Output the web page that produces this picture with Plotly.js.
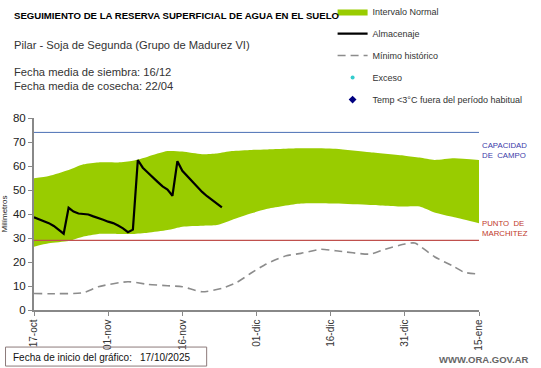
<!DOCTYPE html>
<html>
<head>
<meta charset="utf-8">
<script src="https://cdn.plot.ly/plotly-3.0.1.min.js"></script>
<style>html,body{margin:0;padding:0;background:#fff;}#chart{width:541px;height:368px;}</style>
</head>
<body>
<div id="chart"></div>
<script>
// ---- data ----
const bandDates = ["2025-10-17","2025-10-20","2025-10-24","2025-10-27","2025-10-30","2025-11-03","2025-11-06","2025-11-09","2025-11-13","2025-11-16","2025-11-20","2025-11-23","2025-11-26","2025-11-30","2025-12-03","2025-12-10","2025-12-17","2025-12-24","2025-12-31","2026-01-03","2026-01-06","2026-01-10","2026-01-15"];
const bandUpper = [54.9,55.8,58.3,60.7,61.5,61.5,62.2,63.9,66.2,66.0,64.9,65.2,66.2,66.7,66.9,67.4,67.2,65.7,64.3,63.5,62.5,63.2,62.5];
const bandLower = [26.4,27.8,28.7,30.6,31.7,31.7,31.7,32.2,33.3,34.7,35.1,35.4,37.5,40.3,42.1,44.4,44.4,43.8,43.1,43.1,40.6,38.6,36.1];

const storageDates = ["2025-10-17","2025-10-18","2025-10-19","2025-10-20","2025-10-21","2025-10-22","2025-10-23","2025-10-24","2025-10-25","2025-10-26","2025-10-27","2025-10-28","2025-10-29","2025-10-30","2025-10-31","2025-11-01","2025-11-02","2025-11-03","2025-11-04","2025-11-05","2025-11-06","2025-11-07","2025-11-08","2025-11-09","2025-11-10","2025-11-11","2025-11-12","2025-11-13","2025-11-14","2025-11-15","2025-11-16","2025-11-17","2025-11-18","2025-11-19","2025-11-20","2025-11-21","2025-11-22","2025-11-23","2025-11-24"];
const storage = [38.6,37.8,37.0,36.2,35.0,33.4,31.8,42.6,41.0,40.2,40.1,39.8,39.0,38.4,37.6,36.8,36.2,35.2,34.0,32.4,33.5,62.5,59.3,57.3,55.2,53.4,51.5,50.2,47.6,62.0,58.0,55.8,53.5,51.2,49.2,47.4,45.9,44.3,42.8];

const minDates = ["2025-10-17","2025-10-20","2025-10-27","2025-10-30","2025-11-05","2025-11-09","2025-11-13","2025-11-16","2025-11-20","2025-11-24","2025-11-27","2025-11-30","2025-12-03","2025-12-07","2025-12-10","2025-12-14","2025-12-17","2025-12-24","2025-12-27","2025-12-31","2026-01-02","2026-01-06","2026-01-10","2026-01-12","2026-01-15"];
const minHist = [6.9,6.8,7.2,9.7,11.8,10.7,10.1,9.7,7.6,9.0,11.5,15.5,19.2,22.6,23.6,25.3,24.7,23.3,25.3,27.5,27.9,22.2,18.0,15.7,15.0];

const excesoDates = [];
const exceso = [];
const tempDates = [];
const temp = [];

const capacidadCampo = 74;
const puntoMarchitez = 29;

const tickDates = ["2025-10-17","2025-11-01","2025-11-16","2025-12-01","2025-12-16","2025-12-31","2026-01-15"];
const tickLabels = ["17-oct","01-nov","16-nov","01-dic","16-dic","31-dic","15-ene"];
const yTicks = [0,10,20,30,40,50,60,70,80];

const FONT = "Arial, 'Liberation Sans', sans-serif";

const traces = [
  {x: bandDates, y: bandLower, type: "scatter", mode: "lines", line: {width: 0, color: "#99cc00", shape: "spline", smoothing: 0.6}, showlegend: false, hoverinfo: "skip"},
  {x: bandDates, y: bandUpper, type: "scatter", mode: "lines", fill: "tonexty", fillcolor: "#99cc00", line: {width: 0, color: "#99cc00", shape: "spline", smoothing: 0.6}, name: "Intervalo Normal", legendgroup: "a"},
  {x: storageDates, y: storage, type: "scatter", mode: "lines", line: {color: "#000000", width: 2.2}, name: "Almacenaje", legendgroup: "b"},
  {x: minDates, y: minHist, type: "scatter", mode: "lines", line: {color: "#8c8c8c", width: 1.6, dash: "8px,5px", shape: "spline", smoothing: 0.6}, name: "Mínimo histórico", legendgroup: "c"},
  {x: excesoDates.length ? excesoDates : [null], y: exceso.length ? exceso : [null], type: "scatter", mode: "markers", marker: {color: "#33cccc", size: 4, symbol: "circle"}, name: "Exceso", legendgroup: "d"},
  {x: tempDates.length ? tempDates : [null], y: temp.length ? temp : [null], type: "scatter", mode: "markers", marker: {color: "#000080", size: 6, symbol: "diamond"}, name: "Temp <3°C fuera del período habitual", legendgroup: "e"}
];

const layout = {
  width: 541, height: 368,
  margin: {l: 34, r: 62, t: 118, b: 58, pad: 0, autoexpand: false},
  paper_bgcolor: "#ffffff", plot_bgcolor: "#ffffff",
  font: {family: FONT, color: "#222"},
  showlegend: true,
  legend: {x: 0.671, y: 1.63, xanchor: "left", yanchor: "top", font: {size: 9, color: "#333", family: FONT}, tracegroupgap: 3, itemwidth: 30, bgcolor: "rgba(0,0,0,0)"},
  xaxis: {
    type: "date", range: ["2025-10-17", "2026-01-15"],
    tickvals: tickDates, ticktext: tickLabels, tickangle: -90,
    ticks: "outside", ticklen: 4, tickcolor: "#888", tickwidth: 1,
    showline: true, linecolor: "#888", linewidth: 1.5,
    showgrid: false, zeroline: false,
    tickfont: {size: 10, color: "#333", family: FONT}
  },
  yaxis: {
    range: [0, 80], tickvals: yTicks,
    ticks: "outside", ticklen: 4, tickcolor: "#888", tickwidth: 1,
    showline: true, linecolor: "#888", linewidth: 2,
    showgrid: false, zeroline: false,
    tickfont: {size: 11.5, color: "#222", family: FONT},
    title: {text: "Milímetros", font: {size: 8, color: "#222", family: FONT}, standoff: 6}
  },
  shapes: [
    {type: "line", xref: "paper", yref: "y", x0: 0, x1: 1, y0: capacidadCampo, y1: capacidadCampo, line: {color: "#4a6fb5", width: 1}},
    {type: "line", xref: "paper", yref: "y", x0: 0, x1: 1, y0: puntoMarchitez, y1: puntoMarchitez, line: {color: "#c0504d", width: 1.2}},
    {type: "rect", xref: "paper", yref: "paper", x0: -0.064, x1: 0.388, y0: -0.193, y1: -0.292, line: {color: "#8c7a7a", width: 1}, fillcolor: "rgba(0,0,0,0)"}
  ],
  annotations: [
    {xref: "paper", yref: "paper", x: -0.05, y: 1.535, xanchor: "left", yanchor: "middle", showarrow: false, text: "<b>SEGUIMIENTO DE LA RESERVA SUPERFICIAL DE AGUA EN EL SUELO</b>", font: {size: 9.6, color: "#000", family: FONT}},
    {xref: "paper", yref: "paper", x: -0.05, y: 1.378, xanchor: "left", yanchor: "middle", showarrow: false, text: "Pilar - Soja de Segunda (Grupo de Madurez VI)", font: {size: 11.2, color: "#333", family: FONT}},
    {xref: "paper", yref: "paper", x: -0.05, y: 1.24, xanchor: "left", yanchor: "middle", showarrow: false, text: "Fecha media de siembra: 16/12", font: {size: 11.2, color: "#333", family: FONT}},
    {xref: "paper", yref: "paper", x: -0.05, y: 1.167, xanchor: "left", yanchor: "middle", showarrow: false, text: "Fecha media de cosecha: 22/04", font: {size: 11.2, color: "#333", family: FONT}},
    {xref: "paper", yref: "paper", x: 1.003, y: 0.833, xanchor: "left", yanchor: "middle", showarrow: false, align: "left", text: "CAPACIDAD<br>DE  CAMPO", font: {size: 7.8, color: "#3a3aa8", family: FONT}},
    {xref: "paper", yref: "paper", x: 1.003, y: 0.427, xanchor: "left", yanchor: "middle", showarrow: false, align: "left", text: "PUNTO  DE<br>MARCHITEZ", font: {size: 7.8, color: "#c0392b", family: FONT}},
    {xref: "paper", yref: "paper", x: -0.052, y: -0.245, xanchor: "left", yanchor: "middle", showarrow: false, text: "Fecha de inicio del gráfico:", font: {size: 10, color: "#111", family: FONT}},
    {xref: "paper", yref: "paper", x: 0.234, y: -0.245, xanchor: "left", yanchor: "middle", showarrow: false, text: "17/10/2025", font: {size: 10, color: "#111", family: FONT}},
    {xref: "paper", yref: "paper", x: 1.117, y: -0.26, xanchor: "right", yanchor: "middle", showarrow: false, text: "<b>WWW.ORA.GOV.AR</b>", font: {size: 9.5, color: "#666", family: FONT}}
  ]
};

Plotly.newPlot("chart", traces, layout, {displayModeBar: false, staticPlot: true});
</script>
</body>
</html>
